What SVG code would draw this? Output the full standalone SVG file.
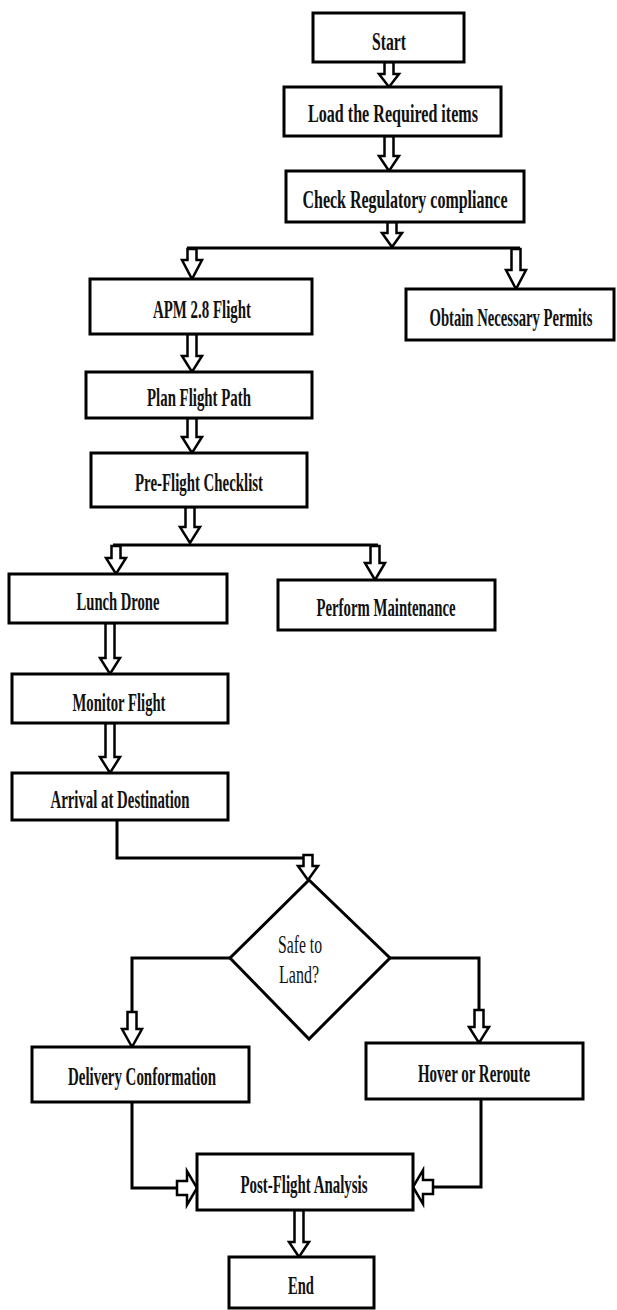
<svg xmlns="http://www.w3.org/2000/svg" width="617" height="1310" viewBox="0 0 617 1310">
<style>
.box{fill:#fff;stroke:#000;stroke-width:3}
.t{font-family:"Liberation Serif","Times New Roman",serif;font-weight:bold;font-size:26px;text-anchor:middle;fill:#111}
.td{font-family:"Liberation Serif","Times New Roman",serif;font-weight:normal;font-size:26px;text-anchor:middle;fill:#111}
.ln{fill:none;stroke:#000;stroke-width:3;stroke-linejoin:miter}
.ar{fill:#fff;stroke:#000;stroke-width:2.5;stroke-linejoin:miter}
</style>
<rect width="617" height="1310" fill="#fff"/>
<g id="connectors">
<path class="ln" d="M187,248 H520"/>
<path class="ln" d="M113,545 H378"/>
<path class="ln" d="M117,820 V858 H312"/>
<path class="ln" d="M230,958 H132 V1012"/>
<path class="ln" d="M390,958 H479 V1010"/>
<path class="ln" d="M132,1102 V1188 H177"/>
<path class="ln" d="M481,1099 V1187 H433"/>
<polygon class="ar" points="384.5,62 393.5,62 393.5,74 399,74 389,87 379,74 384.5,74"/>
<polygon class="ar" points="384.5,136 393.5,136 393.5,156 399,156 389,171 379,156 384.5,156"/>
<polygon class="ar" points="387.5,222 396.5,222 396.5,233 402,233 392,247 382,233 387.5,233"/>
<polygon class="ar" points="187.5,249 196.5,249 196.5,260 202,260 192,279 182,260 187.5,260"/>
<polygon class="ar" points="511.5,249 520.5,249 520.5,270 526,270 516,289 506,270 511.5,270"/>
<polygon class="ar" points="187.5,334 196.5,334 196.5,356 202,356 192,372 182,356 187.5,356"/>
<polygon class="ar" points="187.5,418 196.5,418 196.5,437 202,437 192,453 182,437 187.5,437"/>
<polygon class="ar" points="185.5,507 194.5,507 194.5,527 200,527 190,543 180,527 185.5,527"/>
<polygon class="ar" points="111.5,546 120.5,546 120.5,558 126,558 116,574 106,558 111.5,558"/>
<polygon class="ar" points="370.5,546 379.5,546 379.5,563 385,563 375,580 365,563 370.5,563"/>
<polygon class="ar" points="105.5,623 114.5,623 114.5,658 120,658 110,674 100,658 105.5,658"/>
<polygon class="ar" points="105.5,723 114.5,723 114.5,757 120,757 110,773 100,757 105.5,757"/>
<polygon class="ar" points="303.5,855 312.5,855 312.5,866 318,866 308,880 298,866 303.5,866"/>
<polygon class="ar" points="127.5,1012 136.5,1012 136.5,1029 142,1029 132,1047 122,1029 127.5,1029"/>
<polygon class="ar" points="474.5,1010 483.5,1010 483.5,1027 489,1027 479,1043 469,1027 474.5,1027"/>
<polygon class="ar" points="294.5,1210 303.5,1210 303.5,1242 309,1242 299,1257 289,1242 294.5,1242"/>
<polygon class="ar" points="177,1181 187,1181 187,1171 197,1188 187,1205 187,1195 177,1195"/>
<polygon class="ar" points="433,1180 423,1180 423,1170 413,1187 423,1204 423,1194 433,1194"/>
</g>
<g id="start"><rect class="box" x="313" y="13" width="151" height="49"/><text class="t" transform="translate(389,50) scale(0.6,1)" textLength="56.7" lengthAdjust="spacingAndGlyphs">Start</text></g>
<g id="load"><rect class="box" x="284" y="87" width="217" height="49"/><text class="t" transform="translate(393,122) scale(0.6,1)" textLength="283.3" lengthAdjust="spacingAndGlyphs">Load the Required items</text></g>
<g id="check"><rect class="box" x="286" y="171" width="238" height="51"/><text class="t" transform="translate(405,208) scale(0.6,1)" textLength="341.7" lengthAdjust="spacingAndGlyphs">Check Regulatory compliance</text></g>
<g id="apm"><rect class="box" x="90" y="279" width="222" height="55"/><text class="t" transform="translate(202,318) scale(0.6,1)" textLength="163.3" lengthAdjust="spacingAndGlyphs">APM 2.8 Flight</text></g>
<g id="permits"><rect class="box" x="406" y="289" width="208" height="51"/><text class="t" transform="translate(511,326) scale(0.6,1)" textLength="271.7" lengthAdjust="spacingAndGlyphs">Obtain Necessary Permits</text></g>
<g id="plan"><rect class="box" x="86" y="372" width="226" height="46"/><text class="t" transform="translate(199,406) scale(0.6,1)" textLength="173.3" lengthAdjust="spacingAndGlyphs">Plan Flight Path</text></g>
<g id="preflight"><rect class="box" x="91" y="453" width="216" height="54"/><text class="t" transform="translate(199,491) scale(0.6,1)" textLength="213.3" lengthAdjust="spacingAndGlyphs">Pre-Flight Checklist</text></g>
<g id="launch"><rect class="box" x="9" y="574" width="218" height="49"/><text class="t" transform="translate(118,610) scale(0.6,1)" textLength="138.3" lengthAdjust="spacingAndGlyphs">Lunch Drone</text></g>
<g id="maintenance"><rect class="box" x="278" y="580" width="217" height="50"/><text class="t" transform="translate(386,616) scale(0.6,1)" textLength="231.7" lengthAdjust="spacingAndGlyphs">Perform Maintenance</text></g>
<g id="monitor"><rect class="box" x="12" y="674" width="216" height="49"/><text class="t" transform="translate(119,711) scale(0.6,1)" textLength="155" lengthAdjust="spacingAndGlyphs">Monitor Flight</text></g>
<g id="arrival"><rect class="box" x="12" y="773" width="216" height="47"/><text class="t" transform="translate(120,808) scale(0.6,1)" textLength="231.7" lengthAdjust="spacingAndGlyphs">Arrival at Destination</text></g>
<g id="decision"><polygon class="box" points="309,880 390,958 309,1039 230,958"/><text class="td" transform="translate(300,953) scale(0.6,1)" textLength="73.3" lengthAdjust="spacingAndGlyphs">Safe to</text><text class="td" transform="translate(299,983) scale(0.6,1)" textLength="66.7" lengthAdjust="spacingAndGlyphs">Land?</text></g>
<g id="delivery"><rect class="box" x="32" y="1047" width="217" height="55"/><text class="t" transform="translate(142,1085) scale(0.6,1)" textLength="246.7" lengthAdjust="spacingAndGlyphs">Delivery Conformation</text></g>
<g id="hover"><rect class="box" x="366" y="1043" width="217" height="56"/><text class="t" transform="translate(474,1082) scale(0.6,1)" textLength="186.7" lengthAdjust="spacingAndGlyphs">Hover or Reroute</text></g>
<g id="postflight"><rect class="box" x="197" y="1154" width="216" height="56"/><text class="t" transform="translate(304,1193) scale(0.6,1)" textLength="211.7" lengthAdjust="spacingAndGlyphs">Post-Flight Analysis</text></g>
<g id="end"><rect class="box" x="229" y="1257" width="145" height="51"/><text class="t" transform="translate(301,1294) scale(0.6,1)" textLength="43.3" lengthAdjust="spacingAndGlyphs">End</text></g>
</svg>
